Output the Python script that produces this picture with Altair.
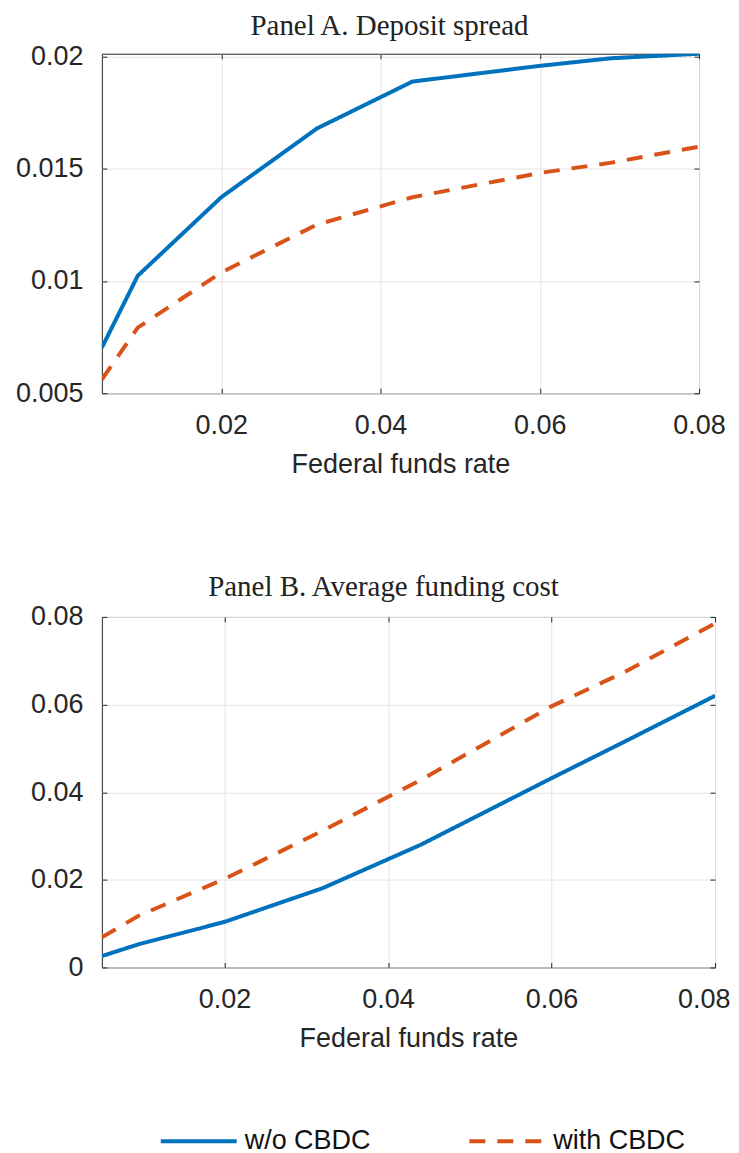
import altair as alt
import pandas as pd

series = ["w/o CBDC", "with CBDC"]
ffr = [0.005, 0.0095, 0.02, 0.032, 0.044, 0.06, 0.069, 0.08]

spread_wo = [0.00703, 0.01023, 0.01373, 0.01679, 0.01888, 0.01958, 0.01992, 0.02012]
spread_with = [0.00561, 0.00792, 0.01038, 0.01251, 0.01373, 0.01481, 0.01527, 0.01598]

cost_wo = [0.0026, 0.0053, 0.0104, 0.0181, 0.0280, 0.0432, 0.0516, 0.0620]
cost_with = [0.0069, 0.0118, 0.0202, 0.0312, 0.0428, 0.0596, 0.0675, 0.0785]

x_ticks = [0.02, 0.04, 0.06, 0.08]
yA_ticks = [0.005, 0.01, 0.015, 0.02]
yB_ticks = [0, 0.02, 0.04, 0.06, 0.08]

colors = ["#0072BD", "#D95319"]
dashes = [[1, 0], [16, 12]]

SANS = "Liberation Sans"
SERIF = "Liberation Serif"
TXT = "#262626"


def long_df(a, b):
    rows = []
    for s, vals in zip(series, [a, b]):
        for x, v in zip(ffr, vals):
            rows.append({"x": x, "v": v, "series": s})
    return pd.DataFrame(rows)


def panel(df, title, dx, ydom, yticks, w, h, last_shift):
    xs = alt.Scale(domain=[0.005, 0.08], nice=False, zero=False)
    ys = alt.Scale(domain=ydom, nice=False, zero=False)
    common_axis = dict(
        tickSize=5, offset=-5, domain=False, tickColor=TXT, tickWidth=1,
        labelFont=SANS, labelFontSize=27, labelColor=TXT, labelPadding=19,
        gridColor="#e3e3e3", gridWidth=1, format="~g", labelFlush=False,
    )
    legend = alt.Legend(
        orient="none", legendX=57, legendY=1049, direction="horizontal",
        title=None, symbolType="stroke", symbolSize=5776, symbolStrokeWidth=4,
        labelFont=SANS, labelFontSize=27, labelColor="#111", columnPadding=90,
        labelOffset=6, symbolOpacity=1,
    )
    x_extra = {}
    if last_shift:
        x_extra = dict(
            labelAlign={"condition": {"test": "datum.value >= 0.079", "value": "right"},
                        "value": "center"},
            labelOffset={"condition": {"test": "datum.value >= 0.079", "value": last_shift},
                         "value": 0},
        )
    lines = alt.Chart(df).mark_line(strokeWidth=4, clip=True).encode(
        x=alt.X("x:Q", scale=xs, axis=alt.Axis(
            values=x_ticks, title="Federal funds rate", titleFont=SANS,
            titleFontSize=27, titleFontWeight="normal", titleColor=TXT,
            titlePadding=13, grid=True, **common_axis, **x_extra)),
        y=alt.Y("v:Q", scale=ys, axis=alt.Axis(
            values=yticks, title=None, grid=True, **common_axis)),
        color=alt.Color("series:N", scale=alt.Scale(domain=series, range=colors),
                        legend=legend),
        strokeDash=alt.StrokeDash("series:N", scale=alt.Scale(domain=series, range=dashes),
                                  legend=legend),
        detail="series:N",
    )
    ticks = alt.Chart(df).mark_point(opacity=0).encode(
        x=alt.X("x:Q", scale=xs, axis=alt.Axis(
            orient="top", values=x_ticks, labels=False, title=None, grid=False,
            tickSize=5, offset=-5, domain=False, tickColor=TXT)),
        y=alt.Y("v:Q", scale=ys, axis=alt.Axis(
            orient="right", values=yticks, labels=False, title=None, grid=False,
            tickSize=5, offset=-5, domain=False, tickColor=TXT)),
    )
    return alt.layer(lines, ticks).resolve_scale(x="independent", y="independent").properties(
        width=w, height=h,
        title=alt.TitleParams(title, font=SERIF, fontSize=29, fontWeight="normal",
                              color="#222", offset=1, dx=dx, anchor="middle"),
    )


pA = panel(long_df(spread_wo, spread_with), "Panel A. Deposit spread", -11,
           [0.005, 0.02012], yA_ticks, 598, 340, 0)
pB = panel(long_df(cost_wo, cost_with), "Panel B. Average funding cost", -25,
           [0, 0.08], yB_ticks, 614, 351, 15)

chart = alt.vconcat(pA, pB, spacing=94).properties(
    padding={"left": 6, "top": 3, "right": 0, "bottom": 0}
).configure_view(stroke=TXT, strokeWidth=1).resolve_scale(
    color="shared", strokeDash="shared"
)

chart.save("out.html", embed_options={"renderer": "svg", "actions": False})
